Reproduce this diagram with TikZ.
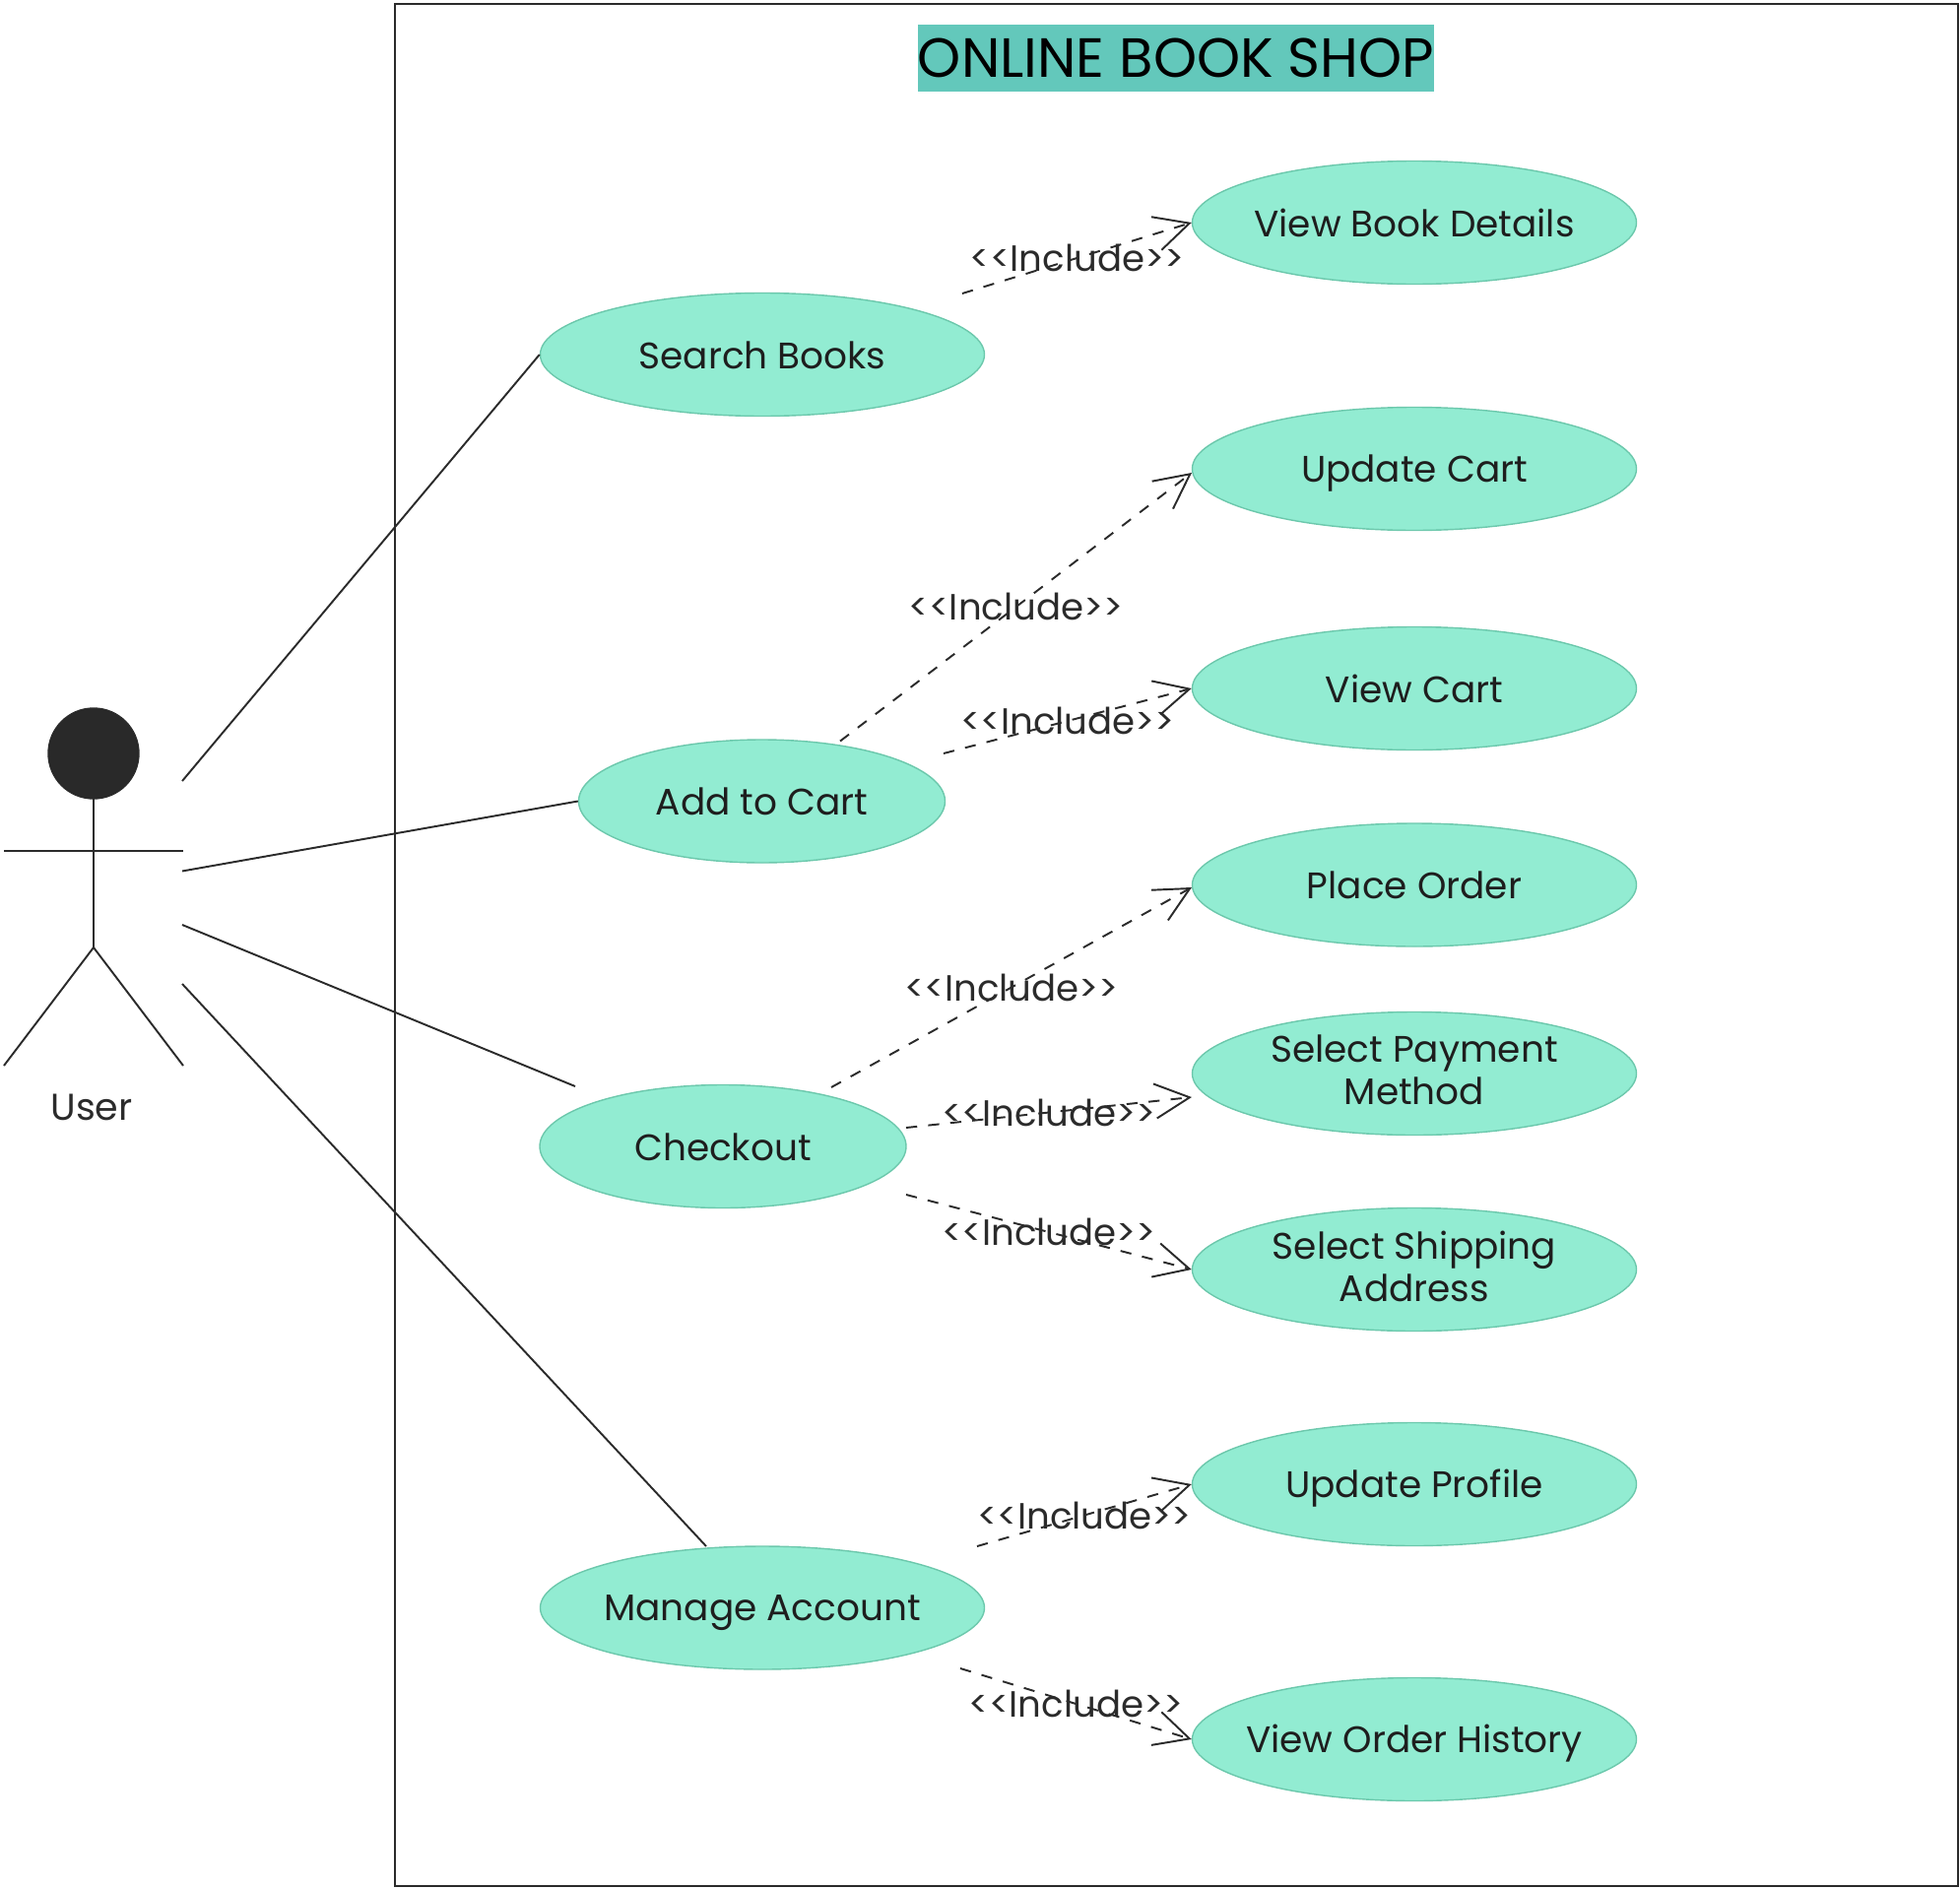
\documentclass[tikz,border=0pt]{standalone}
\usepackage{fontspec}
\setmainfont{Poppins}
\usetikzlibrary{shapes.geometric,arrows.meta}
\definecolor{usefill}{HTML}{92ECD2}
\definecolor{useline}{HTML}{6CC8AC}
\definecolor{titlefill}{HTML}{63C8BB}
\definecolor{ink}{HTML}{2B2B2B}
\newlength{\unitlen}
\setlength{\unitlen}{.01cm}
\newcommand{\casestrut}{\rule[-2.05pt]{0pt}{12.3pt}}
\tikzset{
  usecase/.style={ellipse,draw=useline,fill=usefill,line width=.4pt,inner sep=-10pt,
    minimum width=451\unitlen,minimum height=125\unitlen,align=center,
    font=\fontsize{10.65}{12.3}\selectfont,text=ink!70!black,
    execute at begin node=\casestrut,execute at end node=\casestrut},
  shortcase/.style={usecase,minimum width=372\unitlen},
  assoc/.style={ink,line width=.55pt},
  incl/.style={ink,line width=.55pt,dashed,dash pattern=on 3.2pt off 3.2pt,
    -{Straight Barb[length=10pt,width=10pt]}},
  incltext/.style={font=\fontsize{10.55}{12}\selectfont,text=ink,inner sep=0pt}
}
\begin{document}
\begin{tikzpicture}[x=.01cm,y=-.01cm]
  \useasboundingbox (0,0) rectangle (1990,1918);
  \node[draw=ink,line width=.7pt,inner sep=0pt,outer sep=0pt,minimum width=1587\unitlen,minimum height=1911\unitlen] (shop) at (1194.5,959.5) {};
  \node[fill=titlefill,inner sep=0pt,minimum width=524\unitlen,minimum height=68\unitlen,font=\fontsize{15.95}{18}\selectfont,text=black] (shoptitle) at (1194,59) {ONLINE BOOK SHOP};

  \node[circle,draw=ink,fill=ink!95!black,inner sep=0pt,outer sep=0pt,minimum size=92\unitlen] (head) at (95,765) {};
  \coordinate (hip) at (95,962);
  \coordinate (armL) at (4,864);
  \coordinate (armR) at (186,864);
  \coordinate (legL) at (4,1082);
  \coordinate (legR) at (186,1082);
  \draw[assoc] (head) -- (hip);
  \draw[assoc] (armL) -- (armR);
  \draw[assoc] (legL) -- (hip) -- (legR);
  \node[font=\fontsize{10.8}{12}\selectfont,text=ink,inner sep=0pt] (user) at (93,1124) {User};

  \node[usecase] (search) at (774,360) {Search Books};
  \node[shortcase] (addcart) at (773.5,813.5) {Add to Cart};
  \node[shortcase] (checkout) at (734,1164) {Checkout};
  \node[usecase] (manage) at (774,1632.5) {Manage Account};

  \node[usecase] (details) at (1436,226) {View Book Details};
  \node[usecase] (updcart) at (1436,476) {Update Cart};
  \node[usecase] (viewcart) at (1436,699) {View Cart};
  \node[usecase] (place) at (1436,898.5) {Place Order};
  \node[usecase] (payment) at (1436,1090) {Select Payment\\Method};
  \node[usecase] (shipping) at (1436,1289) {Select Shipping\\Address};
  \node[usecase] (profile) at (1436,1507) {Update Profile};
  \node[usecase] (history) at (1436,1766) {View Order History};

  \coordinate (a1) at (185,793);
  \coordinate (a2) at (185,884.5);
  \coordinate (a3) at (185,939);
  \coordinate (a3e) at (584,1103);
  \coordinate (a4) at (185,999);
  \coordinate (a4e) at (717,1570);
  \draw[assoc] (a1) -- (search.west);
  \draw[assoc] (a2) -- (addcart.west);
  \draw[assoc] (a3) -- (a3e);
  \draw[assoc] (a4) -- (a4e);

  \coordinate (i1) at (977,298);
  \coordinate (i2) at (853,752.5);
  \coordinate (i3) at (958,765);
  \coordinate (i4) at (844,1104);
  \coordinate (i5) at (920,1145);
  \coordinate (i6) at (920,1213);
  \coordinate (i7) at (992,1570);
  \coordinate (i8) at (975,1694);
  \coordinate (updend) at (1210,480);
  \coordinate (placeend) at (1210,901);
  \coordinate (payend) at (1210,1114);
  \draw[incl] (i1) -- (details.west) node[midway,incltext]{<{}<Include>{}>};
  \draw[incl] (i2) -- (updend) node[midway,incltext]{<{}<Include>{}>};
  \draw[incl] (i3) -- (viewcart.west) node[midway,incltext]{<{}<Include>{}>};
  \draw[incl] (i4) -- (placeend) node[midway,incltext]{<{}<Include>{}>};
  \draw[incl] (i5) -- (payend) node[midway,incltext]{<{}<Include>{}>};
  \draw[incl] (i6) -- (shipping.west) node[midway,incltext]{<{}<Include>{}>};
  \draw[incl] (i7) -- (profile.west) node[midway,incltext]{<{}<Include>{}>};
  \draw[incl] (i8) -- (history.west) node[midway,incltext]{<{}<Include>{}>};
\end{tikzpicture}
\end{document}
